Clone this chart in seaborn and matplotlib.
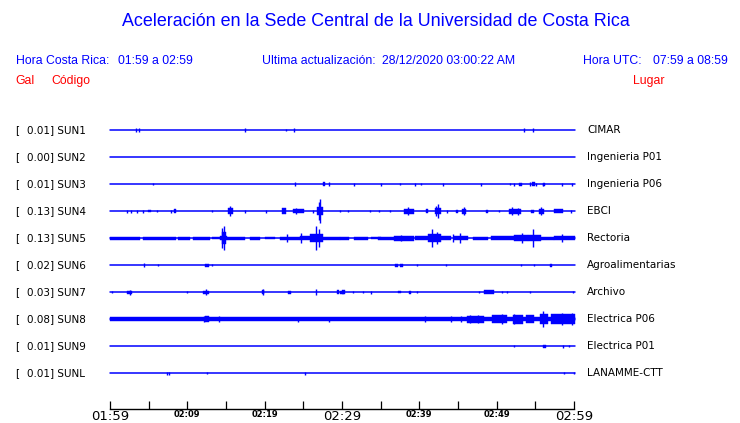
import numpy as np
import pandas as pd
import matplotlib
matplotlib.use("Agg")
import matplotlib.pyplot as plt
import seaborn as sns

# stations, top to bottom
codes = ["SUN1", "SUN2", "SUN3", "SUN4", "SUN5", "SUN6", "SUN7", "SUN8", "SUN9", "SUNL"]
peak_gal = [0.01, 0.00, 0.01, 0.13, 0.13, 0.02, 0.03, 0.08, 0.01, 0.01]
places = ["CIMAR", "Ingenieria P01", "Ingenieria P06", "EBCI", "Rectoria",
          "Agroalimentarias", "Archivo", "Electrica P06", "Electrica P01", "LANAMME-CTT"]

# x axis: minutes after 01:59
tick_minutes = [0, 5, 10, 15, 20, 25, 30, 35, 40, 45, 50, 55, 60]
tick_labels = ["01:59", "", "02:09", "", "02:19", "", "02:29", "", "02:39", "", "02:49", "", "02:59"]
big_ticks = ["01:59", "02:29", "02:59"]

# spikes: (minute, half height) ; blocks: (start minute, end minute, half height)
sun1_spikes = [(3.37, 2), (3.76, 2), (17.5, 2), (22.8, 1), (23.85, 2), (53.5, 2), (54.7, 2)]
sun1_blocks = []

sun2_spikes = []
sun2_blocks = []

sun3_spikes = [(5.57, 1), (23.94, 2), (28.26, 2), (31.5, 1.5), (35.1, 1.5), (37.45, 1), (39.5, 1.5),
               (40.2, 1), (43.0, 1.5), (47.95, 1.5), (51.7, 1), (52.2, 1.5), (54.3, 2), (55.1, 1.5),
               (56.0, 1.5), (58.45, 1.5), (59.75, 1.5)]
sun3_blocks = [(27.6, 27.86, 2), (52.9, 53.3, 1.5), (54.6, 54.9, 2), (55.95, 56.2, 1.5)]

sun4_spikes = [(2.16, 1.5), (2.68, 1.5), (3.54, 1.5), (4.32, 1.5), (6.13, 1), (7.87, 1.5), (13.2, 1),
               (15.55, 5), (17.5, 1.5), (20.2, 1.5), (24.1, 3), (26.3, 1.5), (27.0, 9), (27.2, 12),
               (29.8, 1), (30.75, 1), (33.6, 1), (34.8, 1), (36.2, 1), (38.5, 4), (42.4, 7), (42.2, 5),
               (43.55, 1.5), (45.75, 4), (50.3, 1), (52.0, 4), (52.75, 3.5), (55.7, 4), (59.6, 1.5)]
sun4_blocks = [(4.92, 5.3, 1), (8.3, 8.55, 2), (15.25, 15.85, 3), (22.25, 22.7, 3), (23.7, 25.15, 2),
               (26.8, 27.5, 4), (37.97, 39.27, 2.5), (40.8, 41.1, 2), (42.0, 42.8, 3),
               (44.7, 44.95, 1.5), (45.5, 46.0, 2.5), (48.6, 48.85, 1.5), (51.6, 53.15, 2.5),
               (54.4, 54.8, 1.5), (55.5, 56.1, 2.5), (57.4, 58.6, 2)]

sun5_spikes = [(14.5, 10), (14.7, 12), (22.9, 4), (24.75, 5), (26.7, 12), (27.0, 9), (37.6, 3),
               (41.7, 9), (42.25, 6), (44.3, 4), (45.2, 5), (53.25, 5), (54.65, 9), (58.45, 4)]
sun5_blocks = [(0.0, 3.9, 1.5), (4.3, 8.55, 1.5), (8.8, 10.35, 1.5), (10.75, 12.95, 1.5),
               (13.2, 14.25, 1), (14.25, 15.15, 2), (14.5, 15.0, 6), (15.15, 17.5, 1.5),
               (18.1, 19.45, 1.5), (20.1, 21.4, 1), (22.0, 24.6, 1.5), (24.6, 25.9, 2),
               (25.9, 27.5, 4), (27.5, 29.8, 1.5), (29.8, 30.85, 1.5), (31.5, 33.3, 1.5),
               (33.7, 35.0, 1), (34.6, 36.7, 1.5), (36.7, 39.3, 2.5), (39.5, 41.1, 2),
               (41.1, 42.75, 4), (42.75, 44.05, 2), (44.45, 46.25, 2), (46.9, 48.85, 1.5),
               (49.25, 52.2, 2), (52.2, 54.05, 3), (54.05, 55.75, 3), (55.75, 57.4, 1.5),
               (57.4, 60.1, 2)]

sun6_spikes = [(4.45, 2), (6.26, 1), (13.25, 1), (39.75, 1), (43.4, 1), (53.2, 1), (54.85, 1)]
sun6_blocks = [(12.3, 12.8, 1.5), (36.8, 37.2, 1.5), (37.5, 37.85, 1.5), (56.9, 57.15, 1.5)]

sun7_spikes = [(0.26, 1), (2.6, 2.5), (10.0, 1), (12.45, 3), (19.8, 3), (26.6, 3), (31.4, 1),
               (32.7, 1), (33.7, 1.5), (39.75, 1), (47.7, 1), (50.75, 1), (51.4, 1), (54.3, 1),
               (59.9, 1)]
sun7_blocks = [(2.16, 2.81, 1.5), (12.05, 12.8, 1.5), (19.6, 19.95, 2), (23.05, 23.45, 1.5),
               (29.3, 29.55, 2), (29.8, 30.2, 1.5), (30.05, 30.45, 2), (37.2, 37.6, 1),
               (38.6, 38.9, 1.5), (48.3, 49.7, 2)]

sun8_spikes = [(12.1, 3), (14.05, 3), (24.25, 2.5), (28.3, 2.5), (40.7, 3), (44.05, 3), (45.45, 3),
               (46.6, 4), (47.6, 4), (50.75, 5), (52.2, 5), (56.0, 8), (58.45, 6), (59.75, 6)]
sun8_blocks = [(0.0, 60.1, 2), (12.3, 12.8, 3), (46.2, 48.4, 3.5), (49.45, 51.4, 4),
               (52.05, 53.35, 4.5), (53.8, 54.8, 4), (55.65, 56.6, 5), (57.0, 60.1, 5)]

sun9_spikes = [(52.25, 1), (58.55, 1.5), (59.4, 1)]
sun9_blocks = [(56.0, 56.4, 1.5)]

sunl_spikes = [(7.43, 1.5), (7.65, 1.5), (12.6, 1), (25.2, 1.5), (58.75, 1), (60.0, 1)]
sunl_blocks = []

spikes = [sun1_spikes, sun2_spikes, sun3_spikes, sun4_spikes, sun5_spikes,
          sun6_spikes, sun7_spikes, sun8_spikes, sun9_spikes, sunl_spikes]
blocks = [sun1_blocks, sun2_blocks, sun3_blocks, sun4_blocks, sun5_blocks,
          sun6_blocks, sun7_blocks, sun8_blocks, sun9_blocks, sunl_blocks]

BLUE = "#0000ff"
RED = "#ff0000"
W, H = 740, 423
ROW = 27.0  # pixels between traces

sns.set_theme(style="white")
plt.rcParams["font.family"] = ["DejaVu Sans"]

fig = plt.figure(figsize=(W / 100, H / 100), dpi=100)
ax = fig.add_axes([110 / W, (H - 409) / H, 464 / W, (409 - 115) / H])

# flat baselines
base = pd.DataFrame({
    "t": [0, 60.1] * len(codes),
    "row": np.repeat(np.arange(len(codes)), 2),
    "code": np.repeat(codes, 2),
})
sns.lineplot(data=base, x="t", y="row", units="code", estimator=None,
             color=BLUE, lw=1.1, ax=ax, legend=False, clip_on=False)

for i in range(len(codes)):
    for t0, t1, h in blocks[i]:
        ax.bar(t0, 2 * h / ROW, width=t1 - t0, bottom=i - h / ROW, align="edge",
               color=BLUE, edgecolor=BLUE, linewidth=0.3, clip_on=False)
    if spikes[i]:
        t = [s[0] for s in spikes[i]]
        h = np.array([s[1] for s in spikes[i]]) / ROW
        ax.vlines(t, i - h, i + h, color=BLUE, lw=1.0, clip_on=False)

ax.set_xlim(0, 60)
ax.set_ylim(10.333, -0.556)
ax.set_xlabel("")
ax.set_ylabel("")
ax.set_yticks([])
ax.set_xticks(tick_minutes)
ax.set_xticklabels(tick_labels)
for lab in ax.get_xticklabels():
    if lab.get_text() in big_ticks:
        lab.set_fontsize(9.5)
    else:
        lab.set_fontsize(6)
        lab.set_fontweight("bold")
ax.tick_params(axis="x", direction="in", length=6, width=0.9, color="black",
               pad=1, labelcolor="black", bottom=True)
for s in ["top", "left", "right"]:
    ax.spines[s].set_visible(False)
ax.spines["bottom"].set_color("black")
ax.spines["bottom"].set_linewidth(1.0)
ax.patch.set_alpha(0)


def px(x, y):
    return x / W, 1 - y / H


# header
hdr = "Liberation Sans"
fs = 8.8
fig.text(*px(376, 22), "Aceleración en la Sede Central de la Universidad de Costa Rica",
         ha="center", va="center", color=BLUE, fontsize=12.9, family=hdr)
header_items = [(15.5, "Hora Costa Rica:"), (118.5, "01:59 a 02:59"),
                (261.5, "Ultima actualización:"), (381.5, "28/12/2020 03:00:22 AM"),
                (583, "Hora UTC:"), (653, "07:59 a 08:59")]
for x, s in header_items:
    fig.text(*px(x, 61), s, ha="left", va="center", color=BLUE, fontsize=fs, family=hdr)
for x, s in [(15.5, "Gal"), (51, "Código"), (633.5, "Lugar")]:
    fig.text(*px(x, 81), s, ha="left", va="center", color=RED, fontsize=fs, family=hdr)

# station labels
for i in range(len(codes)):
    y = 130 + ROW * i
    fig.text(*px(15, y), "[", ha="left", va="center", fontsize=7.5, color="black")
    fig.text(*px(27, y), f"{peak_gal[i]:.2f}] {codes[i]}", ha="left", va="center",
             fontsize=7.5, color="black")
    fig.text(*px(587, y), places[i], ha="left", va="center", fontsize=7.5, color="black")

fig.savefig("out.png", dpi=100)
